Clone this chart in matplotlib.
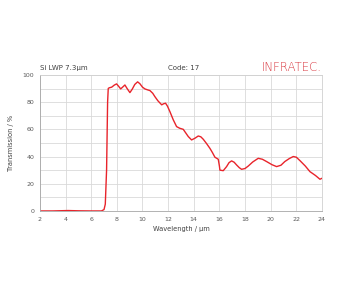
import numpy as np
import matplotlib.pyplot as plt

# transmission curve
wavelength = [2.0, 3.0, 3.8, 4.2, 5.0, 6.0, 6.8, 7.0, 7.1, 7.2, 7.28, 7.33, 7.4, 7.6,
              7.8, 7.98, 8.15, 8.3, 8.45, 8.63, 8.8, 9.02, 9.2, 9.4, 9.62, 9.8,
              10.0, 10.19, 10.4, 10.58, 10.8, 10.97, 11.2, 11.5, 11.65, 11.8, 11.95,
              12.14, 12.4, 12.66, 12.9, 13.18, 13.4, 13.57, 13.83, 14.1, 14.35,
              14.55, 14.74, 15.0, 15.26, 15.45, 15.65, 15.91, 16.0, 16.04, 16.3,
              16.56, 16.75, 16.95, 17.15, 17.34, 17.55, 17.73, 18.0, 18.25, 18.6,
              19.03, 19.35, 19.68, 20.1, 20.46, 20.8, 21.1, 21.45, 21.76, 22.0,
              22.28, 22.7, 23.06, 23.5, 23.84, 24.0]
transmission = [0.0, 0.0, 0.2, 0.3, 0.1, 0.0, 0.0, 1.0, 5.0, 30.0, 80.0, 90.0, 90.5, 91.0,
                92.5, 93.4, 91.5, 89.7, 91.0, 92.6, 90.0, 87.0, 89.5, 93.0, 94.9, 93.5,
                91.0, 89.7, 89.0, 88.5, 86.5, 84.0, 81.0, 78.0, 78.8, 79.2, 77.0,
                73.0, 67.0, 62.0, 60.8, 60.0, 57.0, 54.7, 52.2, 53.5, 55.1,
                54.5, 52.7, 49.5, 46.0, 43.0, 39.5, 38.0, 33.0, 30.0, 29.6,
                32.6, 35.5, 36.8, 35.8, 33.8, 31.8, 30.6, 31.2, 33.0, 36.0,
                38.7, 38.0, 36.3, 34.0, 32.6, 33.6, 36.3, 38.5, 40.0, 39.5,
                37.0, 33.0, 28.9, 26.0, 23.3, 24.0]

x_ticks = [2, 4, 6, 8, 10, 12, 14, 16, 18, 20, 22, 24]
y_ticks = [0, 20, 40, 60, 80, 100]

fig = plt.figure(figsize=(3.44, 2.87), dpi=100)
ax = fig.add_axes([0.116, 0.265, 0.82, 0.474])

ax.plot(wavelength, transmission, color='#e8242b', lw=1.0)

ax.set_xlim(2, 24)
ax.set_ylim(0, 100)
ax.set_xticks(x_ticks)
ax.set_yticks(y_ticks)
ax.set_yticks(np.arange(10, 100, 20), minor=True)
ax.grid(True, which='both', color='#d9d9d9', lw=0.6)
ax.set_axisbelow(True)
ax.tick_params(which='both', length=0, labelsize=4.5, labelcolor='#595959', pad=4)
for s in ax.spines.values():
    s.set_color('#d0d0d0')
    s.set_linewidth(0.6)
ax.spines['left'].set_color('#a6a6a6')
ax.spines['bottom'].set_color('#a6a6a6')

ax.set_xlabel('Wavelength / µm', fontsize=4.8, color='#404040', labelpad=3)
ax.set_ylabel('Transmission / %', fontsize=4.8, color='#404040', labelpad=6)

fig.text(0.116, 0.755, 'Si LWP 7.3µm', fontsize=5, color='#404040')
fig.text(0.488, 0.755, 'Code: 17', fontsize=5, color='#404040')
fig.text(0.936, 0.752, 'INFRATEC.', fontsize=8.5, color='#d9363e',
         ha='right', fontweight='light')

fig.savefig('out.png', dpi=100)
